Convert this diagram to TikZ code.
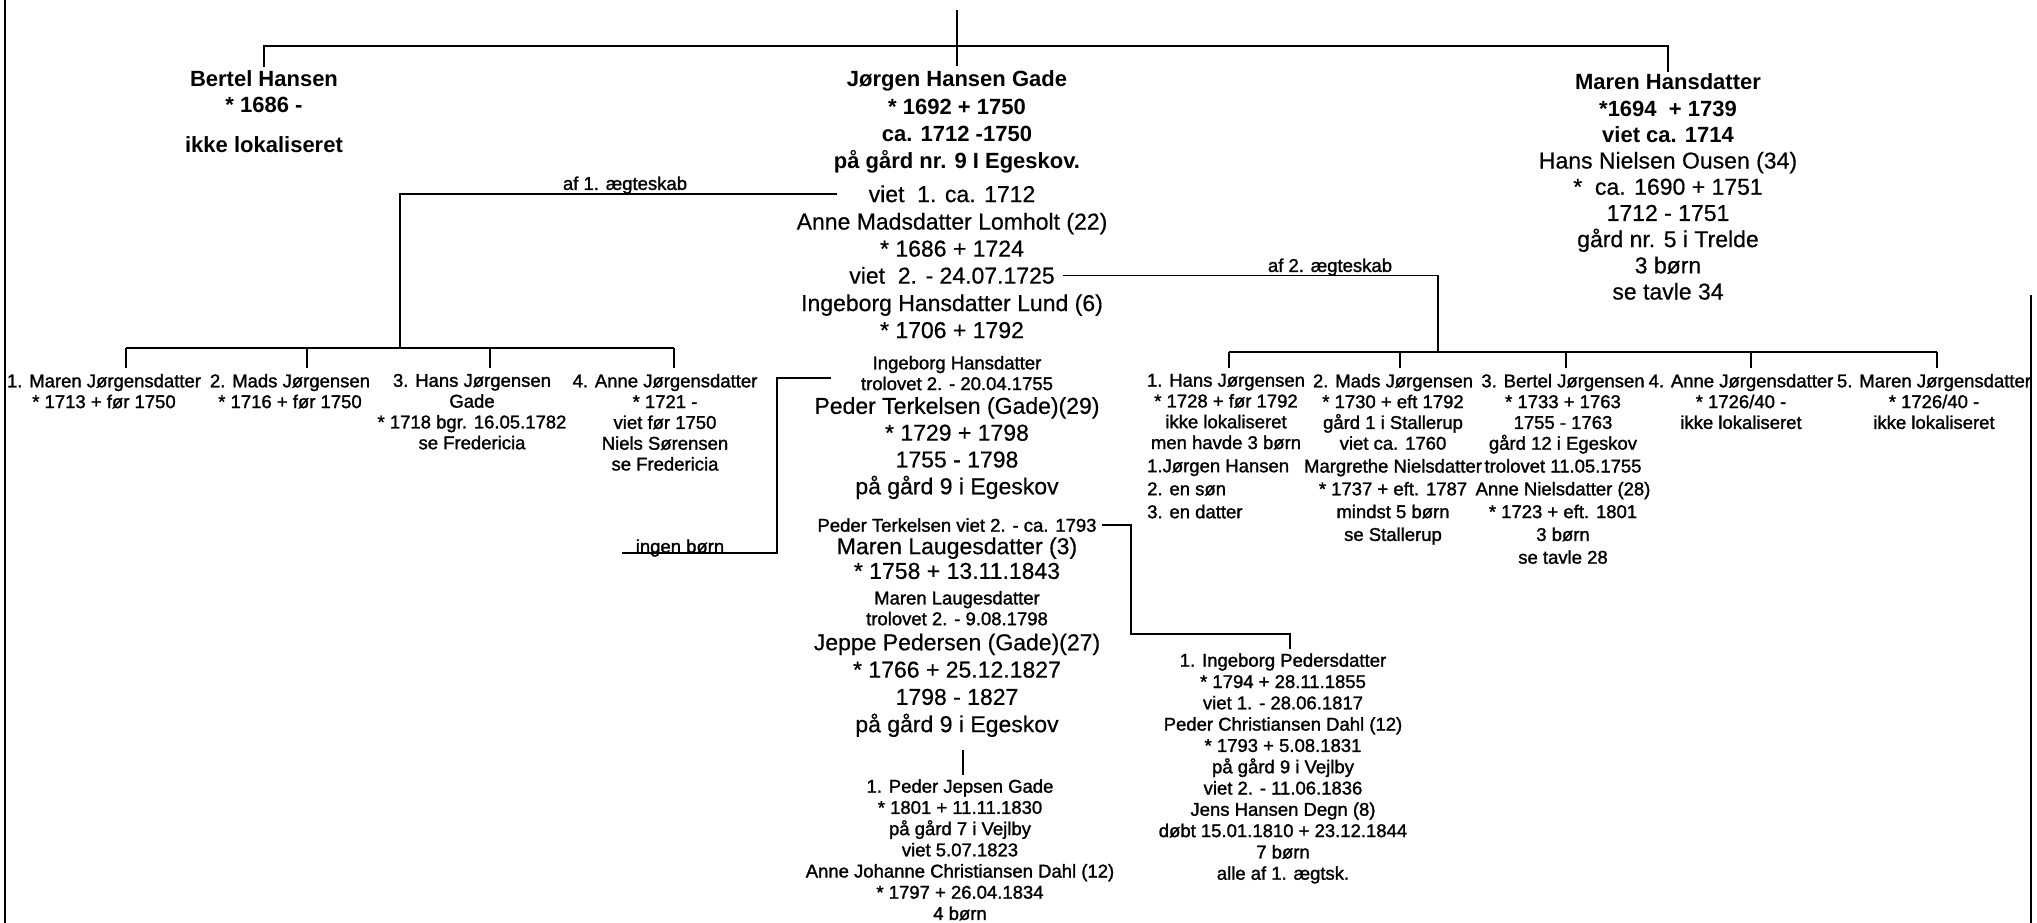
\documentclass[tikz,border=0pt]{standalone}
\usepackage{fontspec}
\setmainfont{Liberation Sans}
\newfontfamily\smallfam[FakeBold=1.4]{Liberation Sans}
\newfontfamily\bigfam[FakeBold=0.5]{Liberation Sans}
\begin{document}
\begin{tikzpicture}[x=1pt,y=-1pt,
  every node/.style={inner sep=0pt, align=center, anchor=north},
  boldtxt/.style={font=\fontsize{22}{27.3}\selectfont\bfseries},
  bigtxt/.style={font=\bigfam\fontsize{23}{27}\selectfont},
  smalltxt/.style={font=\smallfam\fontsize{18.5}{20.8}\selectfont},
  child/.style={smalltxt, outer sep=5.5pt},
  conn/.style={line width=1.6pt},
  frameline/.style={line width=2.6pt},
]
\useasboundingbox (0,0) rectangle (2037,923);

% frame
\coordinate (fl1) at (5,0); \coordinate (fl2) at (5,923);
\coordinate (fr1) at (2031,295); \coordinate (fr2) at (2031,923);
\draw[frameline] (fl1) -- (fl2);
\draw[frameline] (fr1) -- (fr2);

% generation 1
\node[font=\fontsize{22}{26}\selectfont\bfseries, outer sep=4pt] (bertel) at (264,67) {Bertel Hansen\\{*} 1686 -\\[14pt]ikke lokaliseret};
\node[boldtxt, outer sep=5pt] (jorgen) at (957,66) {Jørgen Hansen Gade\\{*} 1692 + 1750\\ca. 1712 -1750\\på gård nr. 9 I Egeskov.};
\node[font=\bigfam\fontsize{23}{26.2}\selectfont, outer sep=2pt] (maren) at (1668,72) {{\rmfamily\fontsize{22}{26.2}\selectfont\bfseries Maren Hansdatter}\\{\rmfamily\fontsize{22}{26.2}\selectfont\bfseries {*}1694\ \ + 1739}\\{\rmfamily\fontsize{22}{26.2}\selectfont\bfseries viet ca. 1714}\\Hans Nielsen Ousen (34)\\{*}\ \ ca. 1690 + 1751\\1712 - 1751\\gård nr. 5 i Trelde\\3 børn\\se tavle 34};

\node[bigtxt] (viet1) at (952,185.2) {viet\ \ 1. ca. 1712};
\node[bigtxt] (anne) at (952,212.7) {Anne Madsdatter Lomholt (22)\\{*} 1686 + 1724};
\node[bigtxt] (viet2) at (952,266.7) {viet\ \ 2. - 24.07.1725};
\node[bigtxt] (ingeborg) at (952,294.2) {Ingeborg Hansdatter Lund (6)\\{*} 1706 + 1792};

% labels
\node[smalltxt] (af1) at (625,176.3) {af 1. ægteskab};
\node[smalltxt] (af2) at (1330,258.3) {af 2. ægteskab};

% children of 1st marriage
\node[child] (lc1) at (104,368.4) {1. Maren Jørgensdatter\\{*} 1713 + før 1750};
\node[child] (lc2) at (290,368.4) {2. Mads Jørgensen\\{*} 1716 + før 1750};
\node[child] (lc3) at (472,368.4) {3. Hans Jørgensen\\Gade\\{*} 1718 bgr. 16.05.1782\\se Fredericia};
\node[child] (lc4) at (665,368.4) {4. Anne Jørgensdatter\\{*} 1721 -\\viet før 1750\\Niels Sørensen\\se Fredericia};

% children of 2nd marriage
\node[child] (rc1) at (1226,368.4) {1. Hans Jørgensen\\{*} 1728 + før 1792\\ikke lokaliseret\\men havde 3 børn};
\node[smalltxt, font=\smallfam\fontsize{18.5}{23}\selectfont, align=left, anchor=north west] (hkids) at (1147,459.3) {1.Jørgen Hansen\\2. en søn\\3. en datter};
\node[child] (rc2) at (1393,368.4) {2. Mads Jørgensen\\{*} 1730 + eft 1792\\gård 1 i Stallerup\\viet ca. 1760\\[2pt]Margrethe Nielsdatter\\[2pt]{*} 1737 + eft. 1787\\[2pt]mindst 5 børn\\[2pt]se Stallerup};
\node[child] (rc3) at (1563,368.4) {3. Bertel Jørgensen\\{*} 1733 + 1763\\1755 - 1763\\gård 12 i Egeskov\\[2pt]trolovet 11.05.1755\\[2pt]Anne Nielsdatter (28)\\[2pt]{*} 1723 + eft. 1801\\[2pt]3 børn\\[2pt]se tavle 28};
\node[child] (rc4) at (1741,368.4) {4. Anne Jørgensdatter\\{*} 1726/40 -\\ikke lokaliseret};
\node[child] (rc5) at (1934,368.4) {5. Maren Jørgensdatter\\{*} 1726/40 -\\ikke lokaliseret};

% centre lower column
\node[smalltxt] (ingtrol) at (957,355.7) {Ingeborg Hansdatter\\trolovet 2. - 20.04.1755};
\node[font=\bigfam\fontsize{23}{26.8}\selectfont] (peder) at (957,397) {Peder Terkelsen (Gade)(29)\\{*} 1729 + 1798\\1755 - 1798\\på gård 9 i Egeskov};
\node[smalltxt] (pviet) at (957,518.1) {Peder Terkelsen viet 2. - ca. 1793};
\node[font=\bigfam\fontsize{23}{24.7}\selectfont] (maren3) at (957,537.3) {Maren Laugesdatter (3)\\{*} 1758 + 13.11.1843};
\node[smalltxt] (ml) at (957,590.8) {Maren Laugesdatter\\trolovet 2. - 9.08.1798};
\node[font=\bigfam\fontsize{23}{27.3}\selectfont] (jeppe) at (957,633.4) {Jeppe Pedersen (Gade)(27)\\{*} 1766 + 25.12.1827\\1798 - 1827\\på gård 9 i Egeskov};
\node[font=\smallfam\fontsize{18.5}{21.2}\selectfont, outer sep=4pt] (pj) at (960,775.3) {1. Peder Jepsen Gade\\{*} 1801 + 11.11.1830\\på gård 7 i Vejlby\\viet 5.07.1823\\Anne Johanne Christiansen Dahl (12)\\{*} 1797 + 26.04.1834\\4 børn};
\node[font=\smallfam\fontsize{18.5}{21.3}\selectfont, outer sep=4pt] (ingp) at (1283,649.3) {1. Ingeborg Pedersdatter\\{*} 1794 + 28.11.1855\\viet 1. - 28.06.1817\\Peder Christiansen Dahl (12)\\{*} 1793 + 5.08.1831\\på gård 9 i Vejlby\\viet 2. - 11.06.1836\\Jens Hansen Degn (8)\\døbt 15.01.1810 + 23.12.1844\\7 børn\\alle af 1. ægtsk.};
\node[smalltxt] (ingen) at (680,539.2) {ingen børn};

% connectors: top
\coordinate (topstart) at (957,10);
\coordinate (topbar) at (957,46);
\draw[conn] (topstart) -- (jorgen.north);
\draw[conn] (bertel.north) -- (bertel.north |- topbar) -- (maren.north |- topbar) -- (maren.north);

% first marriage
\coordinate (lb) at (400,348);
\coordinate (ld1) at (126,348);
\coordinate (ld2) at (307,348);
\coordinate (ld3) at (490,348);
\coordinate (ld4) at (674,348);
\draw[conn] ([xshift=-31pt]viet1.west) -| (lb);
\draw[conn] (ld1) -- (ld4);
\foreach \i in {1,...,4} {\draw[conn] (ld\i) -- (ld\i |- lc\i.north);}

% second marriage
\coordinate (rb) at (1438,352);
\coordinate (rd1) at (1229,352);
\coordinate (rd2) at (1400,352);
\coordinate (rd3) at (1566,352);
\coordinate (rd4) at (1751,352);
\coordinate (rd5) at (1937,352);
\draw[conn] ([xshift=8pt]viet2.east) -| (rb);
\draw[conn] (rd1) -- (rd5);
\foreach \i in {1,...,5} {\draw[conn] (rd\i) -- (rd\i |- rc\i.north);}

% ingen boern
\coordinate (ingL) at (622,553);
\draw[conn] (ingL) -| ([xshift=-84pt,yshift=-5pt]ingtrol.west) -- ([xshift=-30pt,yshift=-5pt]ingtrol.west);

% Peder Terkelsen -> Ingeborg Pedersdatter
\coordinate (pc) at (1131,634);
\coordinate (ipd) at (1290,634);
\draw[conn] ([xshift=5pt]pviet.east) -| (pc) -- (ipd) -- (ipd |- ingp.north);

% Jeppe -> Peder Jepsen
\coordinate (jv) at (963,749.5);
\draw[conn] (jv) -- (jv |- pj.north);
\end{tikzpicture}
\end{document}
